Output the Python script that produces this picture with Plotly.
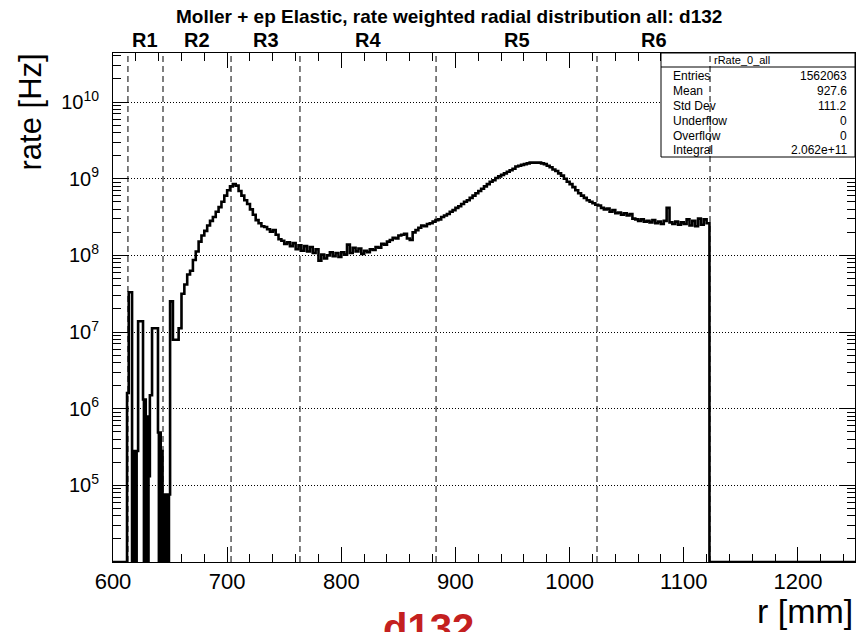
import numpy as np
import plotly.graph_objects as go

FONT = "Liberation Sans, Arial, Helvetica, sans-serif"

# ---------------- data ----------------
# sparse low-radius part: explicit bin edges [mm] and rates [Hz] (0 = empty bin)
left_edges = [600.0, 612.3, 613.8, 616.7, 617.5, 618.3, 619.1, 619.9, 620.7,
              622.0, 626.3, 627.1, 627.9, 628.7, 629.5, 630.3, 631.1, 632.3,
              634.2, 639.4, 640.2, 641.0, 641.8, 642.6, 643.4, 644.2, 645.0,
              645.8, 646.6, 647.4, 648.2, 649.0, 650.0]
left_rate = [0, 1.6e6, 3.3e7, 0, 2.8e5, 0, 2.8e5, 0, 2.8e5,
             1.38e7, 1.32e6, 0, 1.32e6, 0, 7.9e5, 0, 1.32e5,
             1.5e6, 1.12e7, 4.9e5, 0, 4.9e5, 0, 2.8e5, 0, 7.6e4,
             0, 7.6e4, 0, 7.6e4, 0, 7.6e4]

# main part: 2.5 mm bins starting at 650 mm, values are log10(rate [Hz])
main_start = 650.0
main_width = 2.5
main_log10_rate = [
    7.40, 6.90, 6.90, 7.05, 7.50, 7.62, 7.75, 7.80, 7.94, 8.05,   # 650
    8.18, 8.26, 8.32, 8.39, 8.45, 8.50, 8.57, 8.63, 8.70, 8.78,   # 675
    8.85, 8.90, 8.93, 8.91, 8.84, 8.78, 8.72, 8.67, 8.60, 8.53,   # 700
    8.46, 8.42, 8.38, 8.37, 8.34, 8.31, 8.33, 8.27, 8.21, 8.19,   # 725
    8.15, 8.17, 8.12, 8.16, 8.08, 8.13, 8.06, 8.12, 8.05, 8.11,   # 750
    8.03, 8.08, 7.93, 8.01, 7.96, 8.00, 8.04, 7.99, 8.03, 7.98,   # 775
    8.04, 8.01, 8.14, 8.03, 8.10, 8.05, 8.09, 8.02, 8.06, 8.04,   # 800
    8.08, 8.07, 8.11, 8.10, 8.15, 8.14, 8.18, 8.20, 8.23, 8.22,   # 825
    8.26, 8.27, 8.28, 8.22, 8.20, 8.30, 8.33, 8.36, 8.39, 8.38,   # 850
    8.41, 8.42, 8.44, 8.46, 8.47, 8.50, 8.52, 8.54, 8.57, 8.59,   # 875
    8.62, 8.64, 8.67, 8.70, 8.72, 8.75, 8.78, 8.81, 8.84, 8.87,   # 900
    8.90, 8.93, 8.96, 8.98, 9.01, 9.03, 9.05, 9.07, 9.09, 9.11,   # 925
    9.13, 9.16, 9.17, 9.18, 9.19, 9.20, 9.21, 9.21, 9.21, 9.21,   # 950
    9.20, 9.19, 9.17, 9.15, 9.12, 9.10, 9.07, 9.04, 9.00, 8.96,   # 975
    8.93, 8.89, 8.85, 8.81, 8.78, 8.75, 8.72, 8.70, 8.68, 8.66,   # 1000
    8.65, 8.62, 8.60, 8.61, 8.57, 8.59, 8.55, 8.56, 8.53, 8.55,   # 1025
    8.52, 8.54, 8.48, 8.47, 8.45, 8.47, 8.44, 8.45, 8.43, 8.46,   # 1050
    8.42, 8.44, 8.41, 8.45, 8.62, 8.43, 8.41, 8.44, 8.40, 8.43,   # 1075
    8.41, 8.47, 8.39, 8.45, 8.38, 8.48, 8.40, 8.47, 8.42,         # 1100
]
hist_end = 1250.0   # histogram axis upper limit (empty above last bin)

region_edges = [613.1, 643.8, 703.4, 763.8, 883.0, 1024.0, 1123.0]
region_labels = ["R1", "R2", "R3", "R4", "R5", "R6"]

ytick_exp = [5, 6, 7, 8, 9, 10]

stats_title = "rRate_0_all"
stats_names = ["Entries", "Mean", "Std Dev", "Underflow", "Overflow", "Integral"]
stats_values = ["1562063", "927.6", "111.2", "0", "0", "2.062e+11"]

title_text = "Moller + ep Elastic, rate weighted radial distribution all: d132"
tag_text = "d132"

# ---------------- build histogram steps ----------------
Y_LO, Y_HI = 4.0, 10.64
floor_val = 10 ** Y_LO   # empty bins are drawn on the frame bottom

main_rate = [10 ** v for v in main_log10_rate]
main_edges = list(main_start + main_width * np.arange(len(main_rate) + 1))
edges = left_edges[:-1] + main_edges + [hist_end]
rates = left_rate + main_rate + [0]
rates = [r if r > 0 else floor_val for r in rates]

xs, ys = [], []
for i, r in enumerate(rates):
    xs += [edges[i], edges[i + 1]]
    ys += [r, r]

fig = go.Figure()
fig.add_trace(go.Scatter(x=xs, y=ys, mode="lines",
                         line=dict(color="black", width=2.6),
                         hoverinfo="skip", showlegend=False))

# ---------------- layout ----------------
L, R, T, B = 113, 1, 53, 70
W, H = 856, 632
pw, ph = W - L - R, H - T - B


def px(xp):
    return (xp - L) / pw


def py(yp):
    return (H - B - yp) / ph


minor_y = [k * 10 ** n for n in range(4, 11) for k in range(2, 10)
           if Y_LO <= np.log10(k * 10 ** n) <= Y_HI]

fig.update_layout(
    width=W, height=H,
    margin=dict(l=L, r=R, t=T, b=B),
    paper_bgcolor="white", plot_bgcolor="white",
    font=dict(family=FONT, color="black"),
    showlegend=False,
    xaxis=dict(range=[600, 1250], tick0=600, dtick=100,
               ticks="inside", ticklen=15, tickwidth=1, tickcolor="black",
               minor=dict(dtick=20, ticks="inside", ticklen=8, tickcolor="black"),
               showline=True, linecolor="black", linewidth=1, mirror="ticks",
               showgrid=False, zeroline=False,
               tickfont=dict(size=22, family=FONT)),
    yaxis=dict(type="log", range=[Y_LO, Y_HI],
               tickvals=[10 ** e for e in ytick_exp],
               ticktext=["10<sup>%d</sup>" % e for e in ytick_exp],
               ticks="inside", ticklen=15, tickwidth=1, tickcolor="black",
               minor=dict(tickvals=minor_y, ticks="inside", ticklen=8,
                          tickcolor="black", showgrid=False),
               showline=True, linecolor="black", linewidth=1, mirror="ticks",
               showgrid=True, gridcolor="black", gridwidth=1, griddash="1px,2px",
               zeroline=False, ticklabelstandoff=9,
               tickfont=dict(size=20, family=FONT)),
)

shapes = []
# stats box
bx0, bx1, by0, by1 = px(661), px(855), py(157), py(53)
shapes.append(dict(type="rect", xref="paper", yref="paper", x0=bx0, x1=bx1,
                   y0=by0, y1=by1, fillcolor="white",
                   line=dict(color="black", width=1), layer="above"))
shapes.append(dict(type="line", xref="paper", yref="paper", x0=bx0, x1=bx1,
                   y0=py(67), y1=py(67), line=dict(color="black", width=1),
                   layer="above"))
# region boundaries
for e in region_edges:
    shapes.append(dict(type="line", xref="x", yref="paper", x0=e, x1=e,
                       y0=0, y1=1, line=dict(color="black", width=1, dash="6px,4px"),
                       layer="above"))
fig.update_layout(shapes=shapes)

ann = []
ann.append(dict(text="<b>%s</b>" % title_text, xref="paper", yref="paper",
                x=px(449), y=py(16), xanchor="center", yanchor="middle",
                showarrow=False, font=dict(size=19, family=FONT)))
for i, lab in enumerate(region_labels):
    c = 0.5 * (region_edges[i] + region_edges[i + 1])
    ann.append(dict(text="<b>%s</b>" % lab, xref="x", yref="paper", x=c,
                    y=py(40), xanchor="center", yanchor="middle",
                    showarrow=False, font=dict(size=20, family=FONT)))
# axis titles
ann.append(dict(text="rate [Hz]", xref="paper", yref="paper", x=px(30), y=py(52),
                xanchor="center", yanchor="top", textangle=-90, showarrow=False,
                font=dict(size=31, family=FONT)))
ann.append(dict(text="r [mm]", xref="paper", yref="paper", x=px(855), y=py(611),
                xanchor="right", yanchor="middle", showarrow=False,
                font=dict(size=34, family=FONT)))
# red tag
ann.append(dict(text="<b>%s</b>" % tag_text, xref="paper", yref="paper",
                x=px(428), y=py(604), xanchor="center", yanchor="top",
                showarrow=False, font=dict(size=40, family=FONT, color="#c42020")))
# stats box text
ann.append(dict(text=stats_title, xref="paper", yref="paper", x=px(742),
                y=py(60), xanchor="center", yanchor="middle", showarrow=False,
                font=dict(size=11, family=FONT)))
row_y = [76, 91, 106, 121, 136, 150]
for name, val, yy in zip(stats_names, stats_values, row_y):
    ann.append(dict(text=name, xref="paper", yref="paper", x=px(671), y=py(yy),
                    xanchor="left", yanchor="middle", showarrow=False,
                    font=dict(size=12, family=FONT)))
    ann.append(dict(text=val, xref="paper", yref="paper", x=px(849), y=py(yy),
                    xanchor="right", yanchor="middle", showarrow=False,
                    font=dict(size=12, family=FONT)))
fig.update_layout(annotations=ann)

fig.write_html("out.html")
